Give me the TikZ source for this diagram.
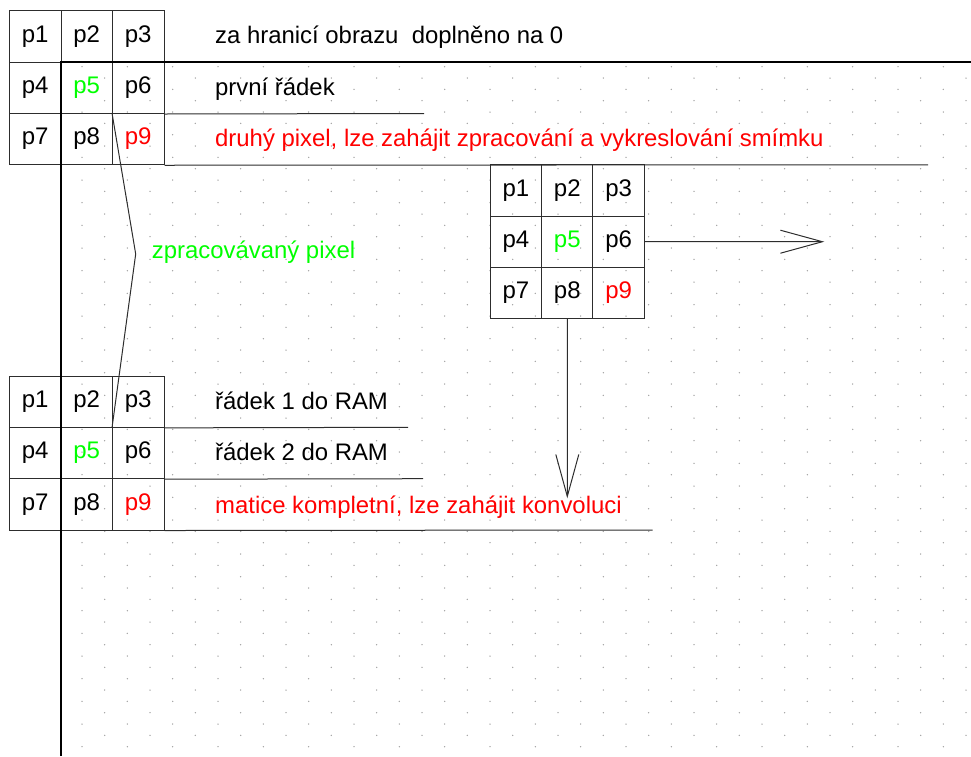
\documentclass[tikz,border=0pt]{standalone}
\usepackage{fontspec}
\setmainfont{Liberation Sans}
\usetikzlibrary{arrows.meta}
\definecolor{pgreen}{RGB}{0,255,0}
\definecolor{pred}{RGB}{255,0,0}
\definecolor{linec}{RGB}{45,45,45}
\definecolor{dotc}{RGB}{160,160,160}
\begin{document}
\begin{tikzpicture}[x=1pt,y=-1pt,
  cell/.style={draw=linec, line width=1pt, minimum width=51.5pt, minimum height=51.3pt, inner sep=0pt, font=\fontsize{24}{28}\selectfont},
  lbl/.style={anchor=base west, inner sep=0pt, font=\fontsize{23.9}{28}\selectfont},
  thinline/.style={draw=linec, line width=1pt},
  thickline/.style={draw=black, line width=2.4pt},
  arr/.style={thinline, -{Straight Barb[length=42pt,width=23pt]}}]
\useasboundingbox (0,0) rectangle (971,756);
% dot grid
\foreach \r in {0,...,60}{
  \pgfmathsetmacro\yy{66.7+11.333*\r}
  \pgfmathsetmacro\xo{82+22.667*mod(\r,2)}
  \foreach \k in {0,...,19}{
    \fill[dotc] (\xo+45.333*\k,\yy) circle (0.75pt);
  }
}
% cells
\foreach \n/\col/\row/\tc in {1/0/0/black,2/1/0/black,3/2/0/black,4/0/1/black,5/1/1/pgreen,6/2/1/black,7/0/2/black,8/1/2/black,9/2/2/pred}{
  \node[cell,text=\tc] (g1c\n) at (35.25+51.5*\col, 36.6+51.25*\row) {p\n};
  \node[cell,text=\tc] (g2c\n) at (35.25+51.5*\col, 401.7+51.33*\row) {p\n};
  \node[cell,text=\tc,minimum width=51.33pt] (g3c\n) at (515.95+51.33*\col, 190.4+51.33*\row) {p\n};
}
% free ends
\coordinate (hend) at (971,62.25);
\coordinate (vend) at (61,756);
\coordinate (l1) at (424,113.5);
\coordinate (l2) at (928,164.75);
\coordinate (l3) at (408,427.3);
\coordinate (l4) at (423,478.7);
\coordinate (l5) at (652.7,530);
\coordinate (zz) at (135.7,254);
\coordinate (aright) at (824.3,241.7);
\coordinate (adown) at (567.3,498.3);
% lines
\draw[thinline] (g1c6.south east) -- (l1);
\draw[thinline] (g1c9.south east) -- (l2);
\draw[thinline] (g2c3.south east) -- (l3);
\draw[thinline] (g2c6.south east) -- (l4);
\draw[thinline] (g2c9.south east) -- (l5);
\draw[thinline] (g1c9.north west) -- (zz) -- (g2c3.south west);
\draw[arr] (g3c6.east) -- (aright);
\draw[arr] (g3c8.south) -- (adown);
\draw[thickline] (vend) |- (hend);
% labels
\node[lbl] (t1) at (215,43.5) {za hranicí obrazu\ \ doplněno na 0};
\node[lbl] (t2) at (215,95) {první řádek};
\node[lbl,text=pred] (t3) at (215,146) {druhý pixel, lze zahájit zpracování a vykreslování smímku};
\node[lbl,text=pgreen] (t7) at (151.7,258) {zpracovávaný pixel};
\node[lbl] (t4) at (215,409) {řádek 1 do RAM};
\node[lbl] (t5) at (215,460.5) {řádek 2 do RAM};
\node[lbl,text=pred] (t6) at (215,513.5) {matice kompletní, lze zahájit konvoluci};
\end{tikzpicture}
\end{document}
